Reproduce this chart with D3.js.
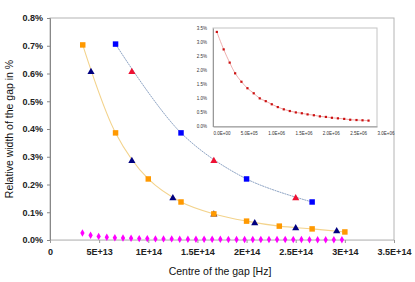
<!DOCTYPE html>
<html><head><meta charset="utf-8">
<script src="https://cdn.jsdelivr.net/npm/d3@7"></script>
<style>
html,body{margin:0;padding:0;background:#fff;}
svg{display:block;font-family:"Liberation Sans",Arial,sans-serif;}
</style></head>
<body>
<svg id="c" width="415" height="282"></svg>
<script>
// ---- main chart data ----
const xTicks = [0, 5e13, 1e14, 1.5e14, 2e14, 2.5e14, 3e14, 3.5e14];
const xTickLabels = ["0", "5E+13", "1E+14", "1.5E+14", "2E+14", "2.5E+14", "3E+14", "3.5E+14"];
const yTicks = [0, 0.1, 0.2, 0.3, 0.4, 0.5, 0.6, 0.7, 0.8];
const yTickLabels = ["0.0%", "0.1%", "0.2%", "0.3%", "0.4%", "0.5%", "0.6%", "0.7%", "0.8%"];

const orangeX = [3.33e13, 6.67e13, 1.0e14, 1.333e14, 1.667e14, 2.0e14, 2.333e14, 2.667e14, 3.0e14];
const orangeY = [0.703, 0.386, 0.220, 0.137, 0.094, 0.068, 0.050, 0.040, 0.029];

const navyX = [4.17e13, 8.33e13, 1.25e14, 1.667e14, 2.083e14, 2.5e14, 2.917e14];
const navyY = [0.606, 0.285, 0.151, 0.092, 0.061, 0.043, 0.032];

const blueX = [6.67e13, 1.333e14, 2.0e14, 2.667e14];
const blueY = [0.706, 0.386, 0.220, 0.137];

const redX = [8.33e13, 1.667e14, 2.5e14];
const redY = [0.606, 0.285, 0.151];

const magentaX = [3.3e13, 4.13e13, 4.95e13, 5.78e13, 6.6e13, 7.43e13, 8.25e13, 9.08e13, 9.9e13,
  1.073e14, 1.155e14, 1.238e14, 1.32e14, 1.403e14, 1.485e14, 1.568e14, 1.65e14, 1.733e14,
  1.815e14, 1.898e14, 1.98e14, 2.063e14, 2.145e14, 2.228e14, 2.31e14, 2.393e14, 2.475e14,
  2.558e14, 2.64e14, 2.723e14, 2.805e14, 2.888e14, 2.97e14];
const magentaY = [0.025, 0.017, 0.013, 0.010, 0.008, 0.007, 0.006, 0.005, 0.005, 0.004, 0.004,
  0.004, 0.003, 0.003, 0.003, 0.003, 0.003, 0.003, 0.002, 0.002, 0.002, 0.002, 0.002, 0.002,
  0.002, 0.002, 0.002, 0.002, 0.001, 0.001, 0.001, 0.001, 0.001];

// ---- inset data ----
const insetXTicks = [0, 5e5, 1e6, 1.5e6, 2e6, 2.5e6, 3e6];
const insetXTickLabels = ["0.0E+00", "5.0E+05", "1.0E+06", "1.5E+06", "2.0E+06", "2.5E+06", "3.0E+06"];
const insetYTicks = [0, 0.5, 1.0, 1.5, 2.0, 2.5, 3.0, 3.5];
const insetYTickLabels = ["0.0%", "0.5%", "1.0%", "1.5%", "2.0%", "2.5%", "3.0%", "3.5%"];
const insetX = [0.7e5, 1.95e5, 3.05e5, 4.05e5, 5.2e5, 6.3e5, 7.45e5, 8.55e5, 9.65e5, 1.075e6,
  1.185e6, 1.295e6, 1.405e6, 1.515e6, 1.625e6, 1.73e6, 1.845e6, 1.955e6, 2.065e6, 2.175e6,
  2.285e6, 2.4e6, 2.51e6, 2.625e6, 2.735e6, 2.845e6];
const insetY = [3.36, 2.74, 2.27, 1.89, 1.59, 1.36, 1.18, 1.00, 0.90, 0.79, 0.69, 0.61, 0.55,
  0.50, 0.47, 0.43, 0.40, 0.36, 0.34, 0.31, 0.29, 0.27, 0.24, 0.23, 0.22, 0.21];

const svg = d3.select("#c");
const L = 50, R = 394, T = 18, B = 240;
const x = d3.scaleLinear().domain([0, 3.5e14]).range([L, R]);
const y = d3.scaleLinear().domain([0, 0.8]).range([B, T]);

// plot area border
svg.append("rect").attr("x", L).attr("y", T).attr("width", R - L).attr("height", B - T)
  .attr("fill", "none").attr("stroke", "#b4b4b4").attr("stroke-width", 1);

// axes
const yAxis = d3.axisLeft(y).tickValues(yTicks).tickSize(3).tickPadding(4)
  .tickFormat((d, i) => yTickLabels[i]);
const gy = svg.append("g").attr("transform", `translate(${L},0)`).call(yAxis);
gy.select(".domain").attr("stroke", "#888");
gy.selectAll(".tick line").attr("stroke", "#888");
gy.selectAll("text").attr("font-size", 9).attr("font-weight", "bold").attr("fill", "#222")
  .attr("font-family", "Liberation Sans, Arial, sans-serif");

const xAxis = d3.axisBottom(x).tickValues(xTicks).tickSize(3).tickPadding(6)
  .tickFormat((d, i) => xTickLabels[i]);
const gx = svg.append("g").attr("transform", `translate(0,${B})`).call(xAxis);
gx.select(".domain").attr("stroke", "#d0d0d0");
gx.selectAll(".tick line").attr("stroke", "#999");
gx.selectAll("text").attr("font-size", 9).attr("font-weight", "bold").attr("fill", "#222")
  .attr("font-family", "Liberation Sans, Arial, sans-serif");

// titles
svg.append("text").attr("x", (L + R) / 2 - 2).attr("y", 275).attr("text-anchor", "middle")
  .attr("font-size", 10.5).attr("fill", "#111").text("Centre of the gap [Hz]");
svg.append("text").attr("transform", `translate(13,${(T + B) / 2}) rotate(-90)`)
  .attr("text-anchor", "middle").attr("font-size", 10.5).attr("fill", "#111")
  .text("Relative width of the gap in %");

// lines
const line = d3.line().x(d => x(d[0])).y(d => y(d[1])).curve(d3.curveCatmullRom.alpha(0.5));
const zip = (a, b) => a.map((v, i) => [v, b[i]]);

svg.append("path").datum(zip(orangeX, orangeY)).attr("d", line)
  .attr("fill", "none").attr("stroke", "#f3d38c").attr("stroke-width", 1.1);
svg.append("path").datum(zip(blueX, blueY)).attr("d", line)
  .attr("fill", "none").attr("stroke", "#8ea4c4").attr("stroke-width", 1)
  .attr("stroke-dasharray", "2,0.6");

// markers
function markers(xs, ys, type, size, color) {
  svg.append("g").selectAll("path").data(zip(xs, ys)).join("path")
    .attr("transform", d => `translate(${x(d[0])},${y(d[1])})`)
    .attr("d", d3.symbol().type(type).size(size)())
    .attr("fill", color);
}
markers(magentaX, magentaY, d3.symbolDiamond, 16, "#ff00ff");
markers(navyX, navyY, d3.symbolTriangle, 22, "#000080");
markers(orangeX, orangeY, d3.symbolSquare, 30, "#ff9900");
markers(redX, redY, d3.symbolTriangle, 22, "#ee1133");
markers(blueX, blueY, d3.symbolSquare, 30, "#0000ff");

// ---- inset ----
const iL = 213, iR = 377, iT = 28, iB = 126.5;
const ix = d3.scaleLinear().domain([0, 3e6]).range([iL, iR]);
const iy = d3.scaleLinear().domain([0, 3.5]).range([iB, iT]);

svg.append("rect").attr("x", iL).attr("y", iT).attr("width", iR - iL).attr("height", iB - iT)
  .attr("fill", "#fff").attr("stroke", "#c4c4c4").attr("stroke-width", 1);

const iyAxis = d3.axisLeft(iy).tickValues(insetYTicks).tickSize(0).tickPadding(6)
  .tickFormat((d, i) => insetYTickLabels[i]);
const giy = svg.append("g").attr("transform", `translate(${iL},0)`).call(iyAxis);
giy.select(".domain").attr("stroke", "#999");
giy.selectAll("text").attr("font-size", 4.5).attr("fill", "#333")
  .attr("font-family", "Liberation Sans, Arial, sans-serif");

const ixAxis = d3.axisBottom(ix).tickValues(insetXTicks).tickSize(0).tickPadding(5)
  .tickFormat((d, i) => insetXTickLabels[i]);
const gix = svg.append("g").attr("transform", `translate(0,${iB})`).call(ixAxis);
gix.select(".domain").attr("stroke", "#999");
gix.selectAll("text").attr("font-size", 4.5).attr("fill", "#333").attr("text-anchor", "start")
  .attr("font-family", "Liberation Sans, Arial, sans-serif");

const iline = d3.line().x(d => ix(d[0])).y(d => iy(d[1])).curve(d3.curveCatmullRom.alpha(0.5));
svg.append("path").datum(zip(insetX, insetY)).attr("d", iline)
  .attr("fill", "none").attr("stroke", "#e89a9a").attr("stroke-width", 0.8);
svg.append("g").selectAll("rect").data(zip(insetX, insetY)).join("rect")
  .attr("x", d => ix(d[0]) - 1.1).attr("y", d => iy(d[1]) - 1.1)
  .attr("width", 2.2).attr("height", 2.2).attr("fill", "#cc1111");
</script>
</body></html>
